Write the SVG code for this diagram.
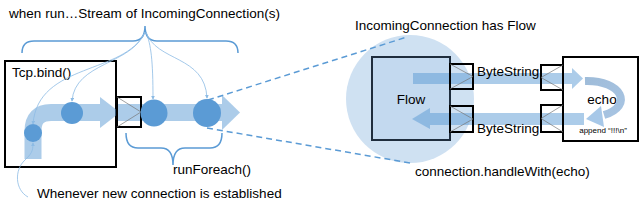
<svg xmlns="http://www.w3.org/2000/svg" width="640" height="212" viewBox="0 0 640 212">
<defs>
<style>
text{font-family:"Liberation Sans",Arial,sans-serif;fill:#000}
.t14{font-size:13.5px}
.box{fill:none;stroke:#000;stroke-width:2}
.port{fill:none;stroke:#000;stroke-width:2}
.pl{fill:none;stroke:#777;stroke-width:0.7}
.node{fill:#5b9bd5}
.thin{fill:none;stroke:#8dbbe4;stroke-width:0.8}
.brace{fill:none;stroke:#5b9bd5;stroke-width:1.5}
.dash{fill:none;stroke:#5b9bd5;stroke-width:1.5;stroke-dasharray:6 4}
</style>
<marker id="ah" viewBox="0 0 6 6" refX="5" refY="3" markerWidth="5" markerHeight="5" orient="auto">
<path d="M0,0 L6,3 L0,6 Z" fill="#8dbbe4"/>
</marker>
<linearGradient id="eg" x1="0" y1="0" x2="1" y2="1">
<stop offset="0" stop-color="#9fbcd9"/>
<stop offset="1" stop-color="#a7c4e2"/>
</linearGradient>
</defs>

<!-- big circle -->
<circle id="bgcircle" cx="410" cy="99" r="64" fill="#cfe1f2"/>

<!-- Tcp.bind -->
<g id="tcpbind">
<rect class="box" x="5" y="61" width="111" height="106" fill="#fff"/>
<text class="t14" x="12" y="77">Tcp.bind()</text>
</g>

<!-- bands -->
<g id="bands" opacity="0.5" fill="#5b9bd5">
<path d="M33,159 V131 Q33,112.5 51,112.5 H101" fill="none" stroke="#5b9bd5" stroke-width="17"/>
<polygon points="100,97 120,112.5 100,128"/>
<rect x="117" y="104" width="106" height="17"/>
<polygon points="222,95 240,112.5 222,130"/>
</g>

<!-- port 1 -->
<g id="port1">
<rect class="port" x="117" y="97" width="24" height="30"/>
<path class="pl" d="M117,97 L141,112 L117,127"/>
</g>

<!-- stream nodes -->
<g id="n1"><circle class="node" cx="33" cy="133" r="9"/></g>
<g id="n2"><circle class="node" cx="72" cy="113" r="11"/></g>
<g id="n3"><circle class="node" cx="154" cy="113" r="13.5"/></g>
<g id="n4"><circle class="node" cx="207" cy="113" r="14"/></g>

<!-- Flow box -->
<g id="flow">
<rect x="372" y="57" width="78" height="83" fill="#c3d9ef" stroke="#1f2d3d" stroke-width="2"/>
<text class="t14" x="411" y="104" text-anchor="middle">Flow</text>
</g>

<!-- echo box -->
<g id="echo">
<rect x="563" y="57" width="75" height="84" fill="#fff" stroke="#000" stroke-width="2"/>
<text class="t14" x="602" y="104" text-anchor="middle">echo</text>
<text x="603" y="133" font-size="8" text-anchor="middle">append “!!!\n”</text>
</g>

<!-- flow bands -->
<g id="flowbands" opacity="0.5" fill="#5b9bd5">
<rect x="413" y="73" width="160" height="11"/>
<polygon points="572,68 583,78.5 572,89"/>
<rect x="428" y="113" width="156" height="12"/>
<polygon points="430,108 412,119 430,129"/>
</g>

<!-- echo loop -->
<g id="echoloop">
<path d="M585,81 C622,80 634,106 604,115" fill="none" stroke="url(#eg)" stroke-width="8"/>
<polygon points="601,106 586,119 604,127" fill="#a7c8e8"/>
</g>

<!-- ports on flow / echo -->
<g id="fport1"><rect class="port" x="450" y="64" width="23" height="25"/><path class="pl" d="M450,64 L473,76.5 L450,89"/></g>
<g id="fport2"><rect class="port" x="450" y="106" width="23" height="26"/><path class="pl" d="M450,106 L473,119 L450,132"/></g>
<g id="eport1"><rect class="port" x="541" y="65" width="22" height="25"/><path class="pl" d="M563,65 L541,77.5 L563,90"/></g>
<g id="eport2"><rect class="port" x="541" y="105" width="22" height="27"/><path class="pl" d="M563,105 L541,118.5 L563,132"/></g>

<text class="t14" x="477" y="76">ByteString</text>
<text class="t14" x="477" y="133">ByteString</text>

<!-- connectors -->
<g id="connectors">
<path class="brace" d="M22,53 Q22,41 34,41 H133 Q145,41 145,26 Q145,41 157,41 H226 Q238,41 238,53"/>
<path class="brace" d="M126,133 Q126,148 138,148 H161 Q173,148 173,165 Q173,148 185,148 H210 Q222,148 222,133"/>
<path class="thin" marker-end="url(#ah)" d="M145,32 C125,75 38,62 33,124"/>
<path class="thin" marker-end="url(#ah)" d="M145,32 C132,65 75,62 72,101"/>
<path class="thin" marker-end="url(#ah)" d="M146,32 C151,45 153,60 153,99"/>
<path class="thin" marker-end="url(#ah)" d="M146,32 C156,62 205,55 207,98"/>
<path class="thin" marker-end="url(#ah)" d="M28,197 C15,190 14,170 25,160 C31,154 33,152 33,143"/>
<path class="dash" d="M208,100 L407,37"/>
<path class="dash" d="M207,128 L410,163"/>
</g>

<text class="t14" x="9" y="18" textLength="271" lengthAdjust="spacing">when run…Stream of IncomingConnection(s)</text>
<text class="t14" x="173" y="174">runForeach()</text>
<text class="t14" x="37" y="198">Whenever new connection is established</text>
<text class="t14" x="355" y="30">IncomingConnection has Flow</text>
<text class="t14" x="415" y="176">connection.handleWith(echo)</text>
</svg>
